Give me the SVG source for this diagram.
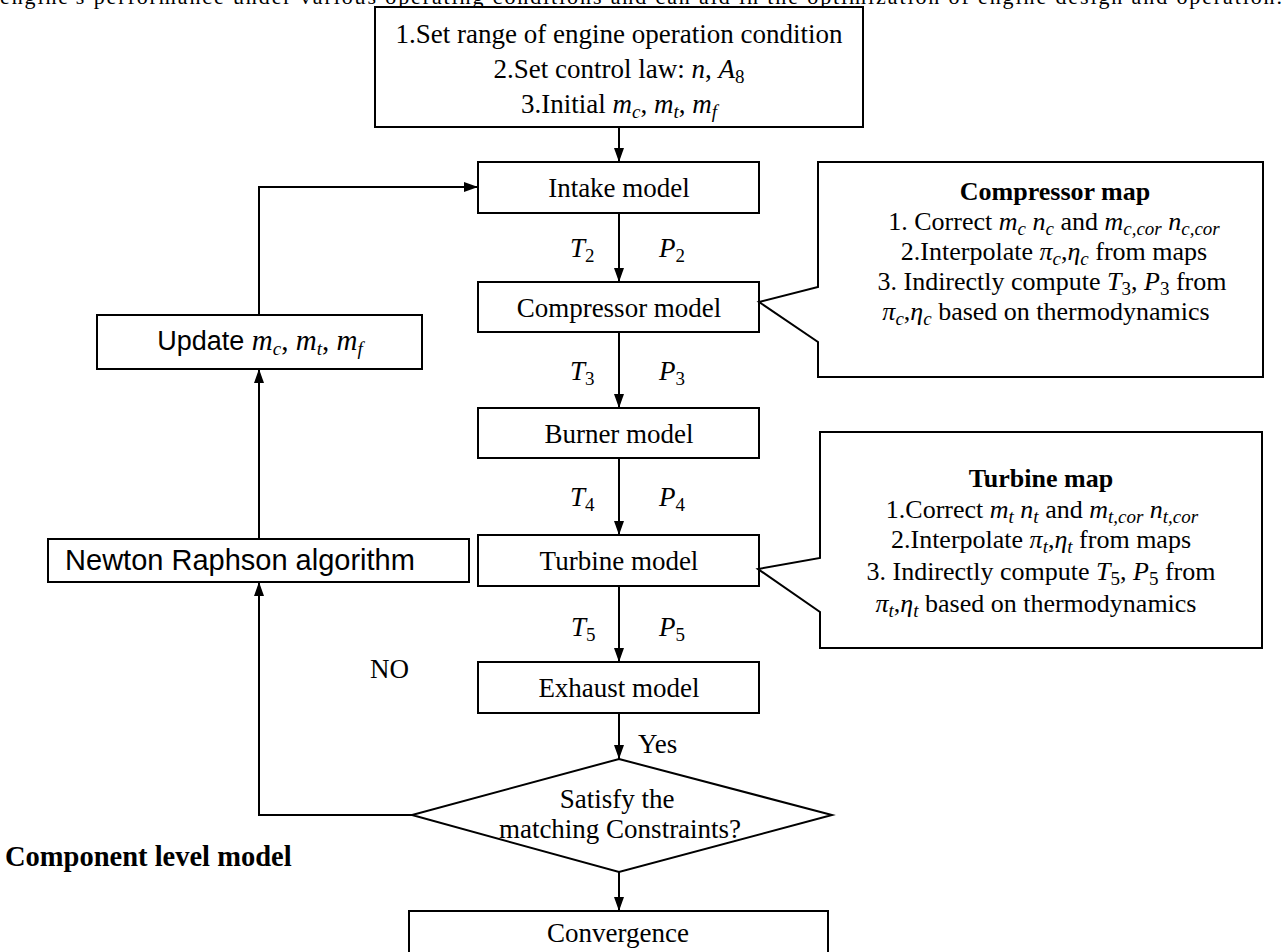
<svg xmlns="http://www.w3.org/2000/svg" width="1284" height="952" viewBox="0 0 1284 952">
<style>
text{font-family:"Liberation Serif","Times New Roman",serif;fill:#000}
.t27{font-size:27px}
.t26{font-size:26px}
.sans{font-family:"Liberation Sans",Arial,sans-serif;font-size:27px}
.b{font-weight:bold}
.mi{font-style:italic}
.sub{font-size:19px}
.box{fill:#fff;stroke:#000;stroke-width:2}
.ln{fill:none;stroke:#000;stroke-width:2}
</style>
<defs>
<marker id="ah" viewBox="0 0 14 10" markerWidth="14" markerHeight="10" refX="14" refY="5" orient="auto" markerUnits="userSpaceOnUse"><path d="M0,0 L14,5 L0,10 z" fill="#000"/></marker>
</defs>
<text x="0" y="4" font-size="22" textLength="1282" lengthAdjust="spacing">engine's performance under various operating conditions and can aid in the optimization of engine design and operation.</text>

<g id="connectors">
<path class="ln" d="M619,127 V162" marker-end="url(#ah)"/>
<path class="ln" d="M619,213 V282" marker-end="url(#ah)"/>
<path class="ln" d="M619,332 V408" marker-end="url(#ah)"/>
<path class="ln" d="M619,458 V535" marker-end="url(#ah)"/>
<path class="ln" d="M619,586 V662" marker-end="url(#ah)"/>
<path class="ln" d="M619,713 V759" marker-end="url(#ah)"/>
<path class="ln" d="M619,872 V911" marker-end="url(#ah)"/>
<path class="ln" d="M412,815 H259 V582" marker-end="url(#ah)"/>
<path class="ln" d="M259,539 V369" marker-end="url(#ah)"/>
<path class="ln" d="M259,315 V187 H478" marker-end="url(#ah)"/>
<text class="t27 mi" x="570" y="257">T<tspan class="sub" font-style="normal" dy="5">2</tspan></text>
<text class="t27 mi" x="659" y="257">P<tspan class="sub" font-style="normal" dy="5">2</tspan></text>
<text class="t27 mi" x="570" y="380">T<tspan class="sub" font-style="normal" dy="5">3</tspan></text>
<text class="t27 mi" x="659" y="380">P<tspan class="sub" font-style="normal" dy="5">3</tspan></text>
<text class="t27 mi" x="570" y="506">T<tspan class="sub" font-style="normal" dy="5">4</tspan></text>
<text class="t27 mi" x="659" y="506">P<tspan class="sub" font-style="normal" dy="5">4</tspan></text>
<text class="t27 mi" x="571" y="636">T<tspan class="sub" font-style="normal" dy="5">5</tspan></text>
<text class="t27 mi" x="659" y="636">P<tspan class="sub" font-style="normal" dy="5">5</tspan></text>
<text class="t27" x="370" y="678">NO</text>
<text class="t27" x="638" y="753">Yes</text>
</g>

<g id="init">
<rect class="box" x="375" y="7" width="488" height="120"/>
<text class="t27" x="619" y="43" text-anchor="middle">1.Set range of engine operation condition</text>
<text class="t27" x="619" y="78" text-anchor="middle">2.Set control law: <tspan class="mi">n</tspan>, <tspan class="mi">A</tspan><tspan class="sub" dy="5">8</tspan></text>
<text class="t27" x="619" y="113" text-anchor="middle">3.Initial <tspan class="mi">m</tspan><tspan class="sub mi" dy="5">c</tspan><tspan dy="-5">, </tspan><tspan class="mi">m</tspan><tspan class="sub mi" dy="5">t</tspan><tspan dy="-5">, </tspan><tspan class="mi">m</tspan><tspan class="sub mi" dy="5">f</tspan></text>
</g>

<g id="intake">
<rect class="box" x="478" y="162" width="281" height="51"/>
<text class="t27" x="619" y="197" text-anchor="middle">Intake model</text>
</g>
<g id="compressor">
<rect class="box" x="478" y="282" width="281" height="50"/>
<text class="t27" x="619" y="317" text-anchor="middle">Compressor model</text>
</g>
<g id="burner">
<rect class="box" x="478" y="408" width="281" height="50"/>
<text class="t27" x="619" y="443" text-anchor="middle">Burner model</text>
</g>
<g id="turbine">
<rect class="box" x="478" y="535" width="281" height="51"/>
<text class="t27" x="619" y="570" text-anchor="middle">Turbine model</text>
</g>
<g id="exhaust">
<rect class="box" x="478" y="662" width="281" height="51"/>
<text class="t27" x="619" y="697" text-anchor="middle">Exhaust model</text>
</g>
<g id="decision">
<path class="box" d="M619,759 L832,815 L619,872 L412,815 Z"/>
<text class="t27" x="617" y="808" text-anchor="middle">Satisfy the</text>
<text class="t27" x="620" y="838" text-anchor="middle">matching Constraints?</text>
</g>
<g id="convergence">
<rect class="box" x="409" y="911" width="419" height="60"/>
<text class="t27" x="618" y="942" text-anchor="middle">Convergence</text>
</g>
<g id="update">
<rect class="box" x="97" y="315" width="325" height="54"/>
<text x="260" y="350" text-anchor="middle"><tspan class="sans">Update </tspan><tspan class="mi" font-size="29">m</tspan><tspan class="sub mi" dy="5">c</tspan><tspan font-size="29" dy="-5">, </tspan><tspan class="mi" font-size="29">m</tspan><tspan class="sub mi" dy="5">t</tspan><tspan font-size="29" dy="-5">, </tspan><tspan class="mi" font-size="29">m</tspan><tspan class="sub mi" dy="5">f</tspan></text>
</g>
<g id="newton">
<rect class="box" x="48" y="539" width="421" height="43"/>
<text class="sans" x="240" y="570" text-anchor="middle" font-size="29" style="font-size:29px">Newton Raphson algorithm</text>
</g>

<g id="compressor-map">
<path class="box" d="M818,162 H1263 V377 H818 V342 L759,302 L818,287 Z"/>
<text class="t26 b" x="1055" y="200" text-anchor="middle">Compressor map</text>
<text class="t26" x="1054" y="230" text-anchor="middle">1. Correct <tspan class="mi">m</tspan><tspan class="sub mi" dy="5">c</tspan><tspan dy="-5"> </tspan><tspan class="mi">n</tspan><tspan class="sub mi" dy="5">c</tspan><tspan dy="-5"> and </tspan><tspan class="mi">m</tspan><tspan class="sub mi" dy="5">c,cor</tspan><tspan dy="-5"> </tspan><tspan class="mi">n</tspan><tspan class="sub mi" dy="5">c,cor</tspan></text>
<text class="t26" x="1054" y="260" text-anchor="middle">2.Interpolate <tspan class="mi">π</tspan><tspan class="sub mi" dy="5">c</tspan><tspan dy="-5">,</tspan><tspan class="mi">η</tspan><tspan class="sub mi" dy="5">c</tspan><tspan dy="-5">  from maps</tspan></text>
<text class="t26" x="1052" y="290" text-anchor="middle">3. Indirectly compute <tspan class="mi">T</tspan><tspan class="sub" dy="5">3</tspan><tspan dy="-5">, </tspan><tspan class="mi">P</tspan><tspan class="sub" dy="5">3</tspan><tspan dy="-5"> from</tspan></text>
<text class="t26" x="1046" y="320" text-anchor="middle"><tspan class="mi">π</tspan><tspan class="sub mi" dy="5">c</tspan><tspan dy="-5">,</tspan><tspan class="mi">η</tspan><tspan class="sub mi" dy="5">c</tspan><tspan dy="-5"> based on thermodynamics</tspan></text>
</g>

<g id="turbine-map">
<path class="box" d="M820,432 H1262 V648 H820 V612 L758,569 L820,558 Z"/>
<text class="t26 b" x="1041" y="487" text-anchor="middle">Turbine map</text>
<text class="t26" x="1042" y="518" text-anchor="middle">1.Correct <tspan class="mi">m</tspan><tspan class="sub mi" dy="5">t</tspan><tspan dy="-5"> </tspan><tspan class="mi">n</tspan><tspan class="sub mi" dy="5">t</tspan><tspan dy="-5"> and </tspan><tspan class="mi">m</tspan><tspan class="sub mi" dy="5">t,cor</tspan><tspan dy="-5"> </tspan><tspan class="mi">n</tspan><tspan class="sub mi" dy="5">t,cor</tspan></text>
<text class="t26" x="1041" y="548" text-anchor="middle">2.Interpolate <tspan class="mi">π</tspan><tspan class="sub mi" dy="5">t</tspan><tspan dy="-5">,</tspan><tspan class="mi">η</tspan><tspan class="sub mi" dy="5">t</tspan><tspan dy="-5">  from maps</tspan></text>
<text class="t26" x="1041" y="580" text-anchor="middle">3. Indirectly compute <tspan class="mi">T</tspan><tspan class="sub" dy="5">5</tspan><tspan dy="-5">, </tspan><tspan class="mi">P</tspan><tspan class="sub" dy="5">5</tspan><tspan dy="-5"> from</tspan></text>
<text class="t26" x="1036" y="612" text-anchor="middle"><tspan class="mi">π</tspan><tspan class="sub mi" dy="5">t</tspan><tspan dy="-5">,</tspan><tspan class="mi">η</tspan><tspan class="sub mi" dy="5">t</tspan><tspan dy="-5"> based on thermodynamics</tspan></text>
</g>

<text class="b" x="5" y="866" font-size="28.5">Component level model</text>
</svg>
